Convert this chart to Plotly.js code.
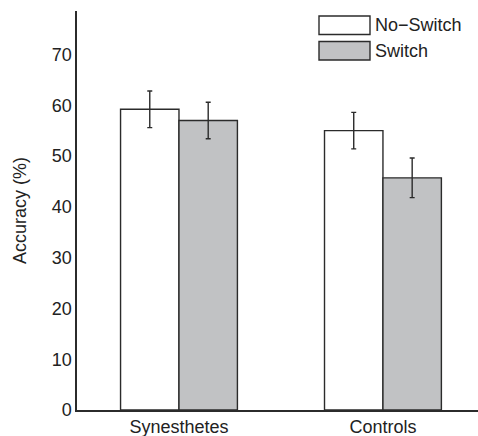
<!DOCTYPE html>
<html>
<head>
<meta charset="utf-8">
<script src="https://cdn.plot.ly/plotly-3.0.1.min.js"></script>
<style>html,body{margin:0;padding:0;background:#fff;}#chart{width:478px;height:436px;}</style>
</head>
<body>
<div id="chart"></div>
<script>
const groups = ["Synesthetes", "Controls"];
const seriesNames = ["No\u2212Switch", "Switch"];
const noSwitch = [59.2, 55.0];
const noSwitchErr = [3.6, 3.6];
const switchVals = [57.0, 45.7];
const switchErr = [3.6, 3.9];
const yTicks = [0, 10, 20, 30, 40, 50, 60, 70];

const fillColors = ["#ffffff", "#c1c2c4"];
const edge = "#2b2b2b";
const font = {family: "Liberation Sans, Arial, sans-serif", size: 18, color: "#222"};

const traces = [
  {type: "bar", name: seriesNames[0], x: groups, y: noSwitch,
   marker: {color: fillColors[0], line: {color: edge, width: 1.4}},
   error_y: {type: "data", array: noSwitchErr, visible: true, color: edge, thickness: 1.4, width: 2.5},
   showlegend: false},
  {type: "bar", name: seriesNames[1], x: groups, y: switchVals,
   marker: {color: fillColors[1], line: {color: edge, width: 1.4}},
   error_y: {type: "data", array: switchErr, visible: true, color: edge, thickness: 1.4, width: 2.5},
   showlegend: false}
];

// custom legend (boxes + labels) in paper coordinates
const W = 401, H = 399, L = 77, T = 11;
function px(x){ return (x - L) / W; }
function py(y){ return 1 - (y - T) / H; }
const shapes = [], annotations = [];
const legRows = [[16, 34.5], [41.5, 60]];
seriesNames.forEach((n, i) => {
  shapes.push({type: "rect", xref: "paper", yref: "paper",
    x0: px(319), x1: px(370), y0: py(legRows[i][1]), y1: py(legRows[i][0]),
    fillcolor: fillColors[i], line: {color: edge, width: 1.4}});
  annotations.push({xref: "paper", yref: "paper", x: px(373), y: py((legRows[i][0] + legRows[i][1]) / 2),
    xanchor: "left", yanchor: "middle", text: n, showarrow: false, font: font});
});

const layout = {
  width: 478, height: 436,
  margin: {l: L, r: 0, t: T, b: 436 - T - H},
  paper_bgcolor: "#fff", plot_bgcolor: "#fff",
  font: font,
  barmode: "group", bargap: 0.427, bargroupgap: 0,
  xaxis: {range: [-0.5, 1.466], showline: true, linecolor: edge, linewidth: 1.6,
          ticks: "", showgrid: false, zeroline: false, tickfont: font, fixedrange: true},
  yaxis: {range: [0, 78.55], showline: true, linecolor: edge, linewidth: 1.6,
          tickvals: yTicks, ticktext: yTicks.map(String), ticks: "", ticklen: 0,
          showgrid: false, zeroline: false, tickfont: font,
          title: {text: "Accuracy (%)", font: font, standoff: 20}},
  shapes: shapes, annotations: annotations, showlegend: false
};

Plotly.newPlot("chart", traces, layout, {displayModeBar: false, staticPlot: true});
</script>
</body>
</html>
